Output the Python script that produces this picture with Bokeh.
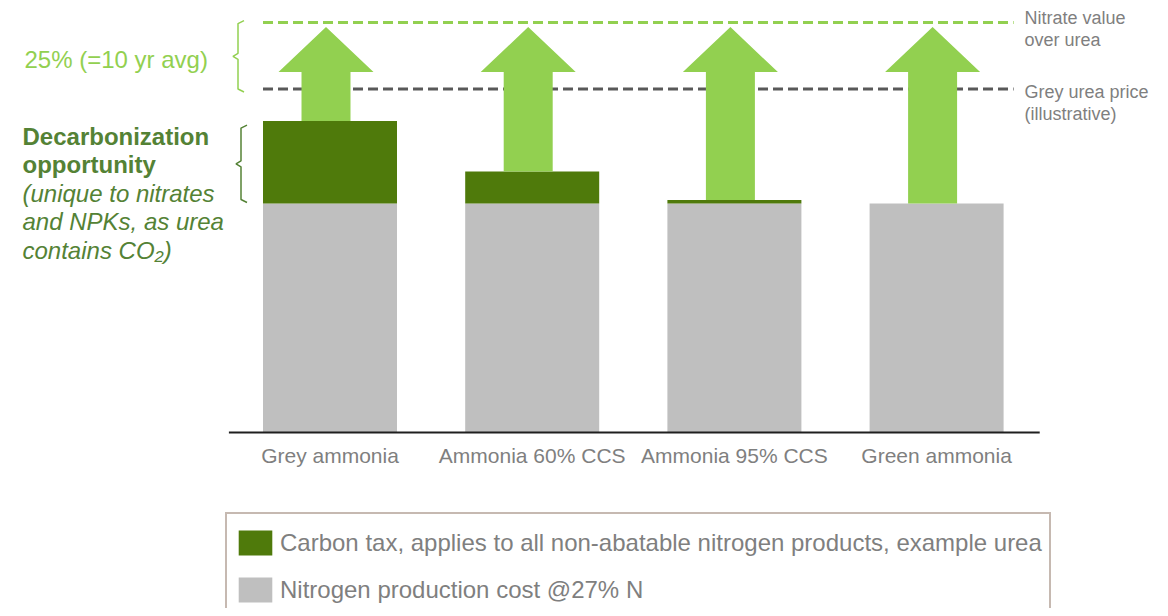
from bokeh.plotting import figure
from bokeh.models import Range1d, Legend, LegendItem, ColumnDataSource
from bokeh.core.properties import value
from bokeh.embed import file_html
from bokeh.resources import INLINE

# ---------------- data ----------------
categories = ["Grey ammonia", "Ammonia 60% CCS", "Ammonia 95% CCS", "Green ammonia"]
production_cost = [100, 100, 100, 100]
carbon_tax = [36, 14, 1.5, 0]
grey_urea_price = 150
nitrate_value = 179

legend_labels = ["Carbon tax, applies to all non-abatable nitrogen products, example urea",
                 "Nitrogen production cost @27% N"]

# ---------------- style ----------------
GREY = "#bfbfbf"
DARK = "#4f7a0b"
LIGHT = "#92d050"
TXT_GREY = "#7f7f7f"
TXT_DARK = "#548235"
FONT = value("Liberation Sans")

W, H = 1160, 608
PX_X = 202.2   # pixels per category step
PX_Y = 2.29    # pixels per value unit
X0 = -329.5 / PX_X
Y_TOP = 432 / PX_Y

p = figure(width=W, height=H, output_backend="svg", toolbar_location=None,
           x_range=Range1d(X0, X0 + W / PX_X), y_range=Range1d(Y_TOP - H / PX_Y, Y_TOP),
           x_axis_type=None, y_axis_type=None, min_border=0)
p.grid.visible = False
p.outline_line_color = None
p.background_fill_color = "white"

def dx(px):
    return px / PX_X

def dy(px):
    return px / PX_Y

xs = list(range(len(categories)))
stack_top = [c + t for c, t in zip(production_cost, carbon_tax)]
bar_w = dx(134)

# reference lines
line_x0 = xs[0] - bar_w / 2
line_x1 = xs[-1] + dx(77)
p.segment(x0=[line_x0], y0=[grey_urea_price], x1=[line_x1], y1=[grey_urea_price],
          line_color="#595959", line_width=3, line_dash="10 5")
p.segment(x0=[line_x0], y0=[nitrate_value], x1=[line_x1], y1=[nitrate_value],
          line_color=LIGHT, line_width=3, line_dash="10 5")

# bars
src = ColumnDataSource(dict(x=xs, cost=production_cost, top=stack_top))
r_cost = p.vbar(x="x", bottom=0, top="cost", width=bar_w, source=src,
                fill_color=GREY, line_color=None)
r_tax = p.vbar(x="x", bottom="cost", top="top", width=bar_w, source=src,
               fill_color=DARK, line_color=None)

# arrows from stack top up to nitrate value
off = -dx(4)
shaft = dx(24.5)
head = dx(47.5)
head_h = dy(45)
tip = nitrate_value - dy(4.5)
ax, ay = [], []
for x, b in zip(xs, stack_top):
    c = x + off
    ax.append([c - shaft, c + shaft, c + shaft, c + head, c, c - head, c - shaft])
    ay.append([b, b, tip - head_h, tip - head_h, tip, tip - head_h, tip - head_h])
p.patches(xs=ax, ys=ay, fill_color=LIGHT, line_color=None)

# baseline axis
p.segment(x0=[-0.5], y0=[0], x1=[3.51], y1=[0], line_color="#1f1f1f", line_width=2)

# helpers for annotation placement (text baseline in pixels)
def ix(px):
    return X0 + px / PX_X

def iy(py, fs):
    return Y_TOP - (py - 0.36 * fs) / PX_Y

# category labels
p.text(x=xs, y=[iy(463, 21)] * 4, text=categories, text_align="center",
       text_baseline="alphabetic", text_font=FONT, text_font_size="21px",
       text_color=TXT_GREY)

# braces
def brace(xv, top, bottom, color):
    mid = (top + bottom) / 2
    bx = [xv + dx(6), xv, xv, xv - dx(5), xv, xv, xv + dx(6)]
    by = [top, top - dy(3), mid + dy(3), mid, mid - dy(3), bottom + dy(3), bottom]
    p.line(bx, by, line_color=color, line_width=1.5)

x_left = xs[0] - bar_w / 2
brace(x_left - dx(25), nitrate_value + dy(2), grey_urea_price - dy(3), LIGHT)
brace(x_left - dx(22), stack_top[0] - dy(4), production_cost[0] + dy(1), TXT_DARK)

# left annotation texts
p.text(x=[ix(24)], y=[iy(68, 24)], text=["25% (=10 yr avg)"], text_font=FONT,
       text_font_size="24px", text_color=LIGHT, text_baseline="alphabetic")
p.text(x=[ix(22)] * 2, y=[iy(145, 24), iy(173, 24)], text=["Decarbonization", "opportunity"],
       text_font=FONT, text_font_size="24px", text_font_style="bold",
       text_color=TXT_DARK, text_baseline="alphabetic")
p.text(x=[ix(22)] * 3, y=[iy(202, 24), iy(230, 24), iy(259, 24)],
       text=["(unique to nitrates", "and NPKs, as urea", "contains CO\u2082)"],
       text_font=FONT, text_font_size="24px", text_font_style="italic",
       text_color=TXT_DARK, text_baseline="alphabetic")

# right annotation texts
p.text(x=[ix(1024)] * 4, y=[iy(23.5, 18), iy(45.5, 18), iy(97.5, 18), iy(119.5, 18)],
       text=["Nitrate value", "over urea", "Grey urea price", "(illustrative)"],
       text_font=FONT, text_font_size="18px", text_color=TXT_GREY,
       text_baseline="alphabetic")

# legend
legend = Legend(items=[LegendItem(label=legend_labels[0], renderers=[r_tax]),
                       LegendItem(label=legend_labels[1], renderers=[r_cost])],
                location=(225, -12), orientation="vertical",
                label_text_font="Liberation Sans", label_text_font_size="24px",
                label_text_color=TXT_GREY, glyph_width=42, glyph_height=31,
                label_height=43, spacing=4, padding=7, label_standoff=4,
                margin=0, border_line_color="#c6b9b1", border_line_width=2,
                border_line_alpha=1.0,
                background_fill_color="white", background_fill_alpha=1.0)
p.add_layout(legend)

open("out.html", "w").write(file_html(p, INLINE))
